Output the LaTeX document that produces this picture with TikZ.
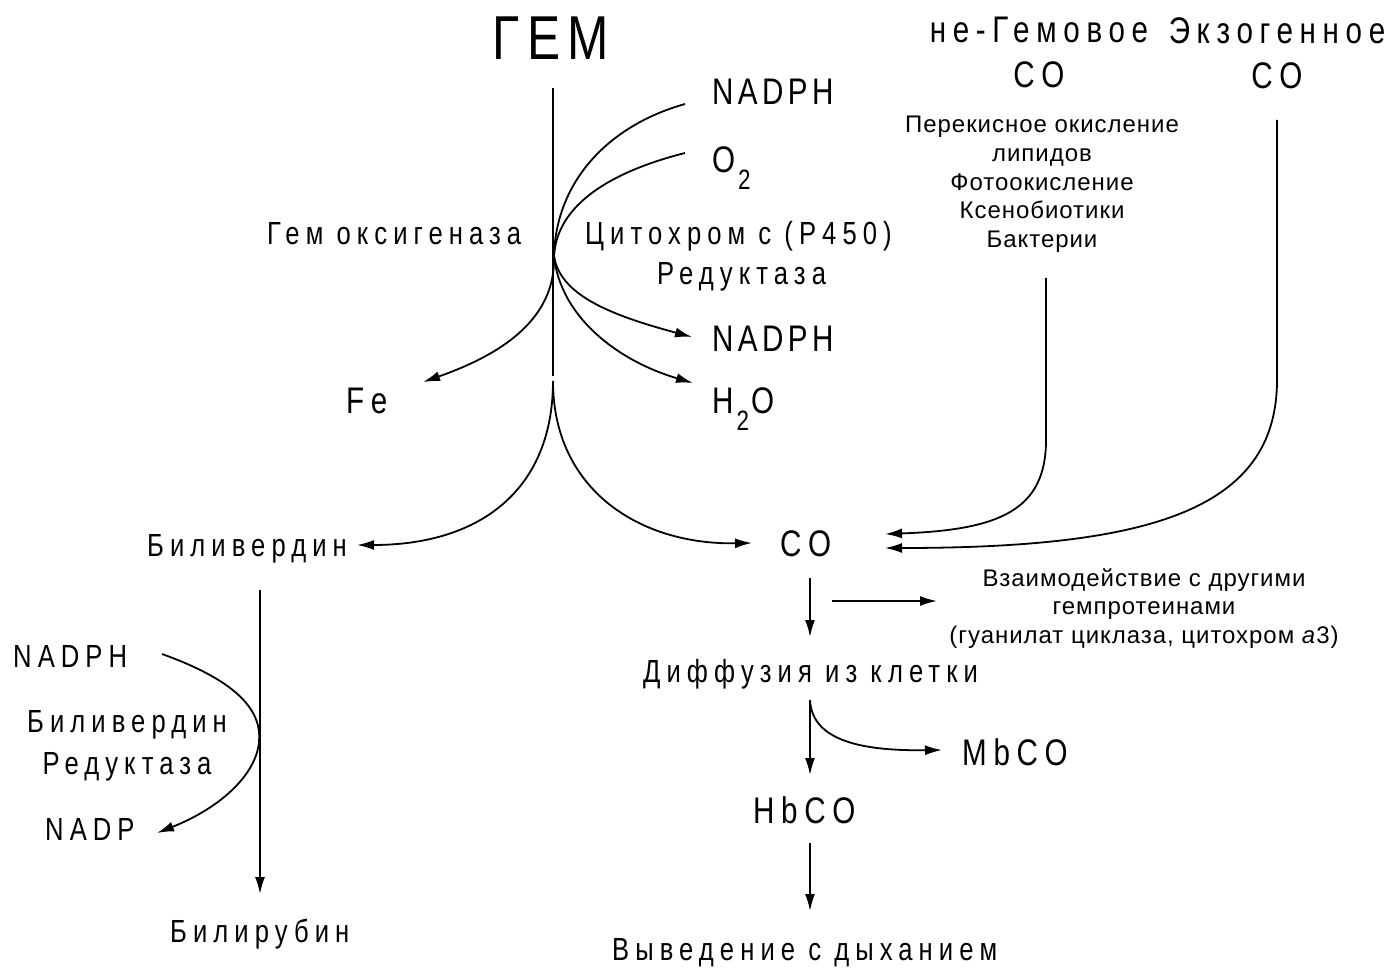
\documentclass[tikz,border=0pt]{standalone}
\usepackage{fontspec}
\setmainfont{Liberation Sans}
\newfontfamily\spfont[LetterSpace=12,FakeStretch=0.8]{Liberation Sans}
\newfontfamily\spwfont[LetterSpace=18,FakeStretch=0.8]{Liberation Sans}
\newfontfamily\midfont[LetterSpace=19,FakeStretch=0.8]{Liberation Sans}
\newfontfamily\nfont[LetterSpace=4]{Liberation Sans}
\usetikzlibrary{arrows.meta}
\tikzset{
  lbl/.style={inner sep=0pt, anchor=base west},
  huge/.style={font=\spfont\fontsize{62}{64}\selectfont, inner sep=0pt},
  big/.style={font=\spfont\fontsize{37}{45}\selectfont},
  bigw/.style={font=\spwfont\fontsize{37}{45}\selectfont},
  mid/.style={font=\midfont\fontsize{32}{42}\selectfont},
  small/.style={font=\nfont\fontsize{24}{28.7}\selectfont, inner sep=0pt, align=center, anchor=north},
  conn/.style={line width=1.8pt},
  arr/.style={conn, -{Latex[length=17pt,width=10pt]}},
}
\newcommand{\subtwo}{\hspace{3pt}\raisebox{-17pt}{\fontsize{28}{30}\selectfont 2}\hspace{2pt}}
\begin{document}
\begin{tikzpicture}[x=1pt,y=-1pt]
\useasboundingbox (0,0) rectangle (1386,968);
% texts
\node[huge, anchor=base] (gem) at (551,60) {ГЕМ};
\node[lbl,big] (nadph1) at (712,105) {NADPH};
\node[lbl,big] (o2) at (712,173) {O\subtwo};
\node[lbl,mid] (ho) at (267,245) {Гем оксигеназа};
\node[lbl,mid] (cyt) at (585,245) {Цитохром с (P450)};
\node[lbl,mid] (red) at (657,284) {Редуктаза};
\node[lbl,big] (nadph2) at (712,351) {NADPH};
\node[lbl,big] (h2o) at (712,413) {H\subtwo O};
\node[lbl,bigw] (fe) at (346,413) {Fe};
\node[bigw, inner sep=0pt, align=center, anchor=north] (nonheme) at (1039,17) {не-Гемовое\\CO};
\node[bigw, inner sep=0pt, align=center, anchor=north] (exo) at (1277,17) {Экзогенное\\CO};
\node[small] (src) at (1042,116) {Перекисное окисление\\липидов\\Фотоокисление\\Ксенобиотики\\Бактерии};
\node[lbl,mid] (bv) at (147,556) {Биливердин};
\node[lbl,bigw] (co) at (780,556) {CO};
\node[small] (inter) at (1144,568) {Взаимодействие с другими\\гемпротеинами\\(гуанилат циклаза, цитохром \textit{a}3)};
\node[lbl,mid] (diff) at (643,682) {Диффузия из клетки};
\node[lbl,bigw] (mbco) at (962,765) {MbCO};
\node[lbl,bigw] (hbco) at (753,823) {HbCO};
\node[lbl,mid] (exh) at (612,960) {Выведение с дыханием};
\node[lbl,mid] (nadph3) at (13,667) {NADPH};
\node[mid, inner sep=0pt, align=center, anchor=north] (bvr) at (127,710) {Биливердин\\Редуктаза};
\node[lbl,mid] (nadp) at (45,840) {NADP};
\node[lbl,mid] (br) at (170,942) {Билирубин};
% coordinates
\coordinate (h1) at (553,88);
\coordinate (h2) at (553,376);
\coordinate (h3) at (553,381);
\coordinate (j) at (554,256);
\coordinate (n1s) at (685,104);
\coordinate (o2s) at (685,153);
\coordinate (fet) at (423,382);
\coordinate (n2t) at (692,337);
\coordinate (h2ot) at (693,383);
\coordinate (bvt) at (357,545);
\coordinate (cot) at (752,543);
\coordinate (nhs) at (1046,278);
\coordinate (nhv) at (1046,440);
\coordinate (nht) at (885,534);
\coordinate (exs) at (1277,120);
\coordinate (exv) at (1277,380);
\coordinate (ext) at (885,548);
\coordinate (cos) at (810,578);
\coordinate (cod) at (810,637);
\coordinate (hs) at (832,601);
\coordinate (ht) at (937,601);
\coordinate (ds) at (810,700);
\coordinate (dt) at (810,775);
\coordinate (mbt) at (942,750);
\coordinate (hbs) at (810,843);
\coordinate (hbt) at (810,911);
\coordinate (bvs) at (260,590);
\coordinate (brt) at (260,894);
\coordinate (n3s) at (162,654);
\coordinate (bvm) at (259,742);
\coordinate (nadpt) at (157,833);
% connectors
\draw[conn] (h1) -- (h2);
\draw[conn] (n1s) .. controls (610,125) and (556,180) .. (j);
\draw[conn] (o2s) .. controls (610,172) and (557,205) .. (j);
\draw[arr] (j) .. controls (556,320) and (500,355) .. (fet);
\draw[arr] (j) .. controls (560,295) and (610,315) .. (n2t);
\draw[arr] (j) .. controls (560,315) and (615,360) .. (h2ot);
\draw[arr] (h3) .. controls (553,490) and (480,545) .. (bvt);
\draw[arr] (h3) .. controls (553,490) and (640,545) .. (cot);
\draw[arr] (nhs) -- (nhv) .. controls (1046,510) and (1000,530) .. (nht);
\draw[arr] (exs) -- (exv) .. controls (1277,510) and (1150,548) .. (ext);
\draw[arr] (cos) -- (cod);
\draw[arr] (hs) -- (ht);
\draw[arr] (ds) -- (dt);
\draw[arr] (ds) .. controls (812,742) and (865,751) .. (mbt);
\draw[arr] (hbs) -- (hbt);
\draw[arr] (bvs) -- (brt);
\draw[conn] (n3s) .. controls (240,682) and (262,712) .. (bvm);
\draw[arr] (bvm) .. controls (256,775) and (220,808) .. (nadpt);
\end{tikzpicture}
\end{document}
